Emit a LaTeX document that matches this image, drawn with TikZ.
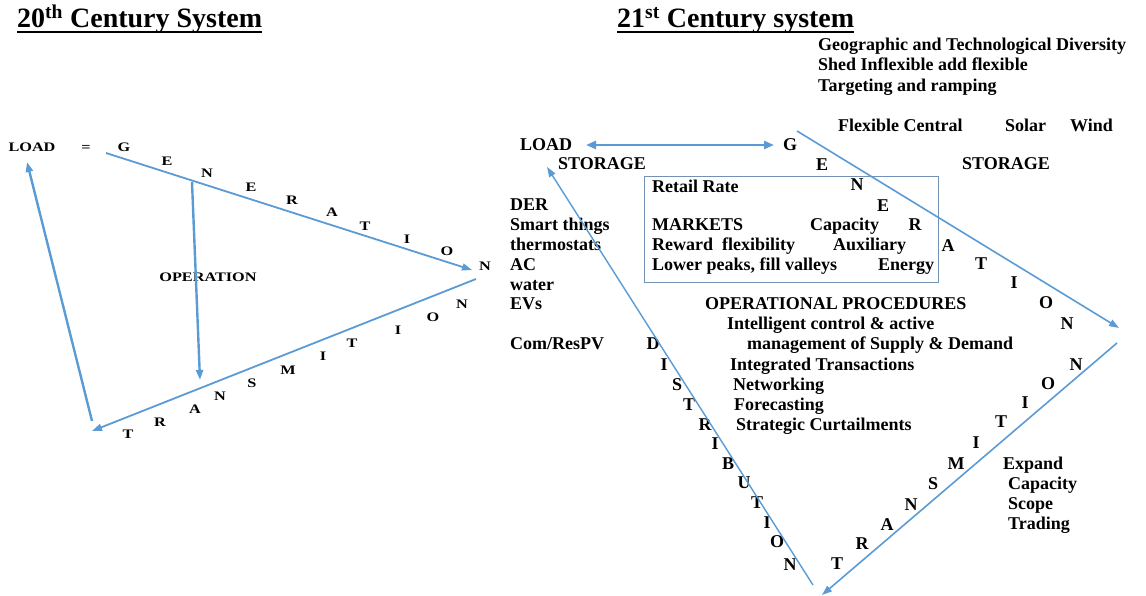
\documentclass[tikz,border=0pt]{standalone}
\usepackage{fontspec}
\usepackage{graphicx}
\setmainfont{Liberation Serif}
\usetikzlibrary{arrows.meta}
\definecolor{flowblue}{HTML}{5B9BD5}
\definecolor{boxedge}{HTML}{7291B4}
\newcommand\wide[1]{\scalebox{1.25}[1]{#1}}
\tikzset{
  flow/.style={flowblue, line width=1.8pt, -{Triangle[length=10pt,width=7pt]}},
  word/.style={font=\bfseries\fontsize{18}{18}\selectfont, anchor=west, inner sep=0pt, text height=11.8pt, text depth=0pt},
  letter/.style={word, anchor=center},
  small/.style={font=\bfseries\fontsize{13}{13}\selectfont, inner sep=0pt, text height=8.6pt, text depth=0pt},
  heading/.style={font=\bfseries\fontsize{28}{28}\selectfont, anchor=base west, inner sep=0pt}
}
\begin{document}
\begin{tikzpicture}[x=1pt,y=-1pt]
\useasboundingbox (0,0) rectangle (1146,596);
% 20th century
\node[heading] (t20) at (17,28) {20\textsuperscript{th} Century System};
\draw[line width=1.4pt] ([yshift=-4pt]t20.base west) -- ([yshift=-4pt]t20.base east);
\node[small] (lload) at (32,147) {\wide{LOAD}};
\node[small] (leq) at (86,147) {\wide{=}};
\foreach \ch/\x/\y [count=\i] in {G/124/147,E/167/161,N/207/173,E/251/187,R/292/200,A/332/212,T/365/226,I/407/239,O/447/251,N/485/266}
  \node[small] (lgen\i) at (\x,\y) {\wide{\ch}};
\foreach \ch/\x/\y [count=\i] in {T/128/434,R/160/422,A/195/409,N/220/396,S/252/383,M/288/370,I/323/356,T/352/343,I/398/330,O/433/317,N/462/304}
  \node[small] (ltra\i) at (\x,\y) {\wide{\ch}};
\node[small] (lop) at (208,277) {\wide{OPERATION}};
\coordinate (lg1) at (106,153);
\coordinate (lg2) at (472,270);
\coordinate (lo1) at (192,182);
\coordinate (lo2) at (200,380);
\coordinate (lt1) at (476,279);
\coordinate (lt2) at (92,431);
\coordinate (ll1) at (92,421);
\coordinate (ll2) at (27,162);
\draw[flow] (lg1) -- (lg2);
\draw[flow, line width=2.4pt] (lo1) -- (lo2);
\draw[flow] (lt1) -- (lt2);
\draw[flow, line width=2.4pt] (ll1) -- (ll2);
% 21st century
\node[heading] (t21) at (617,28) {21\textsuperscript{st} Century system};
\draw[line width=1.4pt] ([yshift=-4pt]t21.base west) -- ([yshift=-4pt]t21.base east);
\node[word] (geo) at (818,45) {Geographic and Technological Diversity};
\node[word] (shed) at (818,65) {Shed Inflexible add flexible};
\node[word] (ramp) at (818,86) {Targeting and ramping};
\node[word] (flex) at (838,126) {Flexible Central};
\node[word] (solar) at (1005,126) {Solar};
\node[word] (wind) at (1070,126) {Wind};
\node[word] (rload) at (520,145) {LOAD};
\node[word] (stl) at (558,164) {STORAGE};
\node[word] (str) at (962,164) {STORAGE};
\draw[boxedge, line width=1pt] (644,177) rectangle (938,282);
\node[word] (retail) at (652,187) {Retail Rate};
\node[word] (mkt) at (652,225) {MARKETS};
\node[word] (cap) at (810,225) {Capacity};
\node[word] (rew) at (652,245) {Reward\ \ flexibility};
\node[word] (aux) at (833,245) {Auxiliary};
\node[word] (low) at (652,265) {Lower peaks, fill valleys};
\node[word] (ener) at (878,265) {Energy};
\foreach \t/\y [count=\i] in {DER/205,{Smart things}/225,thermostats/245,AC/265,water/285,EVs/304,{Com/ResPV}/344}
  \node[word] (der\i) at (510,\y) {\t};
\node[word] (opp) at (705,304) {OPERATIONAL PROCEDURES};
\node[word] (intel) at (727,324) {Intelligent control \& active};
\node[word] (mgmt) at (747,344) {management of Supply \& Demand};
\node[word] (integ) at (730,365) {Integrated Transactions};
\node[word] (net) at (733,385) {Networking};
\node[word] (fore) at (734,405) {Forecasting};
\node[word] (strat) at (736,425) {Strategic Curtailments};
\foreach \t/\y [count=\i] in {Expand/464,Capacity/484,Scope/504,Trading/524}
  \node[word] (exp\i) at ({\i==1 ? 1003 : 1008},\y) {\t};
\foreach \ch/\x/\y [count=\i] in {G/790/145,E/822/165,N/857/185,E/883/206,R/915/225,A/948/246,T/981/264,I/1014/283,O/1046/303,N/1067/324}
  \node[letter] (rgen\i) at (\x,\y) {\ch};
\foreach \ch/\x/\y [count=\i] in {T/837/564,R/862/544,A/887/525,N/911/505,S/933/484,M/956/464,I/976/443,T/1001/422,I/1025/403,O/1048/384,N/1076/365}
  \node[letter] (rtra\i) at (\x,\y) {\ch};
\foreach \ch/\x/\y [count=\i] in {D/653/344,I/664/365,S/677/385,T/689/405,R/705/425,I/715/444,B/728/464,U/744/483,T/757/503,I/767/523,O/777/542,N/790/565}
  \node[letter] (rdis\i) at (\x,\y) {\ch};
\coordinate (ra1) at (586,145);
\coordinate (ra2) at (774,145);
\coordinate (rg1) at (797,131);
\coordinate (rg2) at (1119,328);
\coordinate (rt1) at (1117,343);
\coordinate (rt2) at (822,595);
\coordinate (rd1) at (813,585);
\coordinate (rd2) at (547,167);
\draw[flow, line width=2.6pt, {Triangle[length=10pt,width=8pt]}-{Triangle[length=10pt,width=8pt]}] (ra1) -- (ra2);
\draw[flow, line width=1.6pt] (rg1) -- (rg2);
\draw[flow, line width=1.6pt] (rt1) -- (rt2);
\draw[flow, line width=1.4pt] (rd1) -- (rd2);
\end{tikzpicture}
\end{document}
